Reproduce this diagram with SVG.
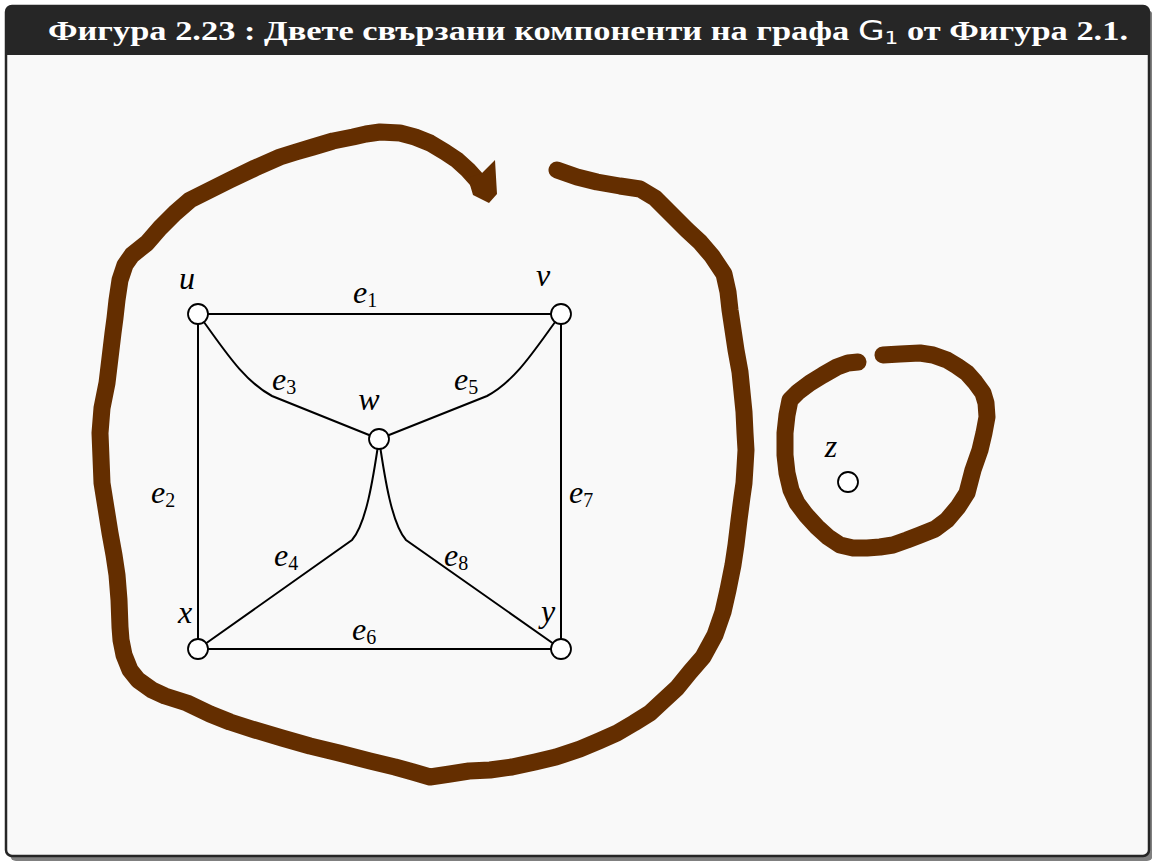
<svg xmlns="http://www.w3.org/2000/svg" width="1152" height="861" viewBox="0 0 1152 861">
<style>
.edge{fill:none;stroke:#000;stroke-width:2}
.node{fill:#fff;stroke:#000;stroke-width:1.8}
.lbl{font-family:"Liberation Serif",serif;font-style:italic;font-size:32px;fill:#000}
.sub{font-style:normal;font-size:20px}
.loop{fill:none;stroke:#642e00;stroke-width:17;stroke-linejoin:round;stroke-linecap:round}
</style>
<rect x="10" y="10" width="1143" height="851" rx="6" fill="#808080"/>
<rect x="6" y="6" width="1143" height="850" rx="6" fill="#f9f9f9" stroke="#262626" stroke-width="2.5"/>
<path d="M6,55 V12 Q6,6 12,6 H1143 Q1149,6 1149,12 V55 Z" fill="#262626"/>
<text x="48" y="40" textLength="1080" lengthAdjust="spacingAndGlyphs" font-family="Liberation Serif, serif" font-weight="bold" font-size="27" fill="#fff">Фигура 2.23 : Двете свързани компоненти на графа <tspan font-family="DejaVu Sans, sans-serif" font-weight="normal">G</tspan><tspan font-family="DejaVu Sans, sans-serif" font-weight="normal" font-size="17" dy="4">1</tspan><tspan dy="-4"> от Фигура 2.1.</tspan></text>

<g id="loops">
<path class="loop" d="M557,170 L577,177 L597,182 L620,186 L640,189 L655,198 L667,210 L687,230 L700,242 L712,256 L724,274 L728,292 L730,310 L733,330 L736,350 L740,372 L742,392 L744,412 L745,433 L746,450 L745,467 L744,483 L742,497 L739,520 L736,545 L733,565 L728,590 L723,612 L715,635 L703,657 L690,672 L677,688 L664,700 L650,713 L634,723 L617,733 L599,741 L580,749 L556,757 L535,762 L512,767 L490,770 L469,771 L450,774 L430,777 L413,772 L395,767 L370,761 L339,753 L310,746 L282,738 L255,730 L230,722 L210,714 L187,703 L165,696 L152,690 L138,680 L130,670 L124,655 L121,640 L120,627 L119,600 L117,575 L114,555 L110,533 L106,508 L102,483 L101,458 L100,433 L102,408 L107,383 L110,358 L113,333 L115,318 L117,300 L120,280 L125,265 L132,255 L147,243 L160,228 L175,213 L190,200 L210,190 L230,180 L255,168 L280,157 L296,152 L313,147 L333,141 L353,137 L366,134 L380,132 L400,133 L415,137 L430,143 L445,152 L457,160 L468,170 L477,180 L482,187"/>
<polygon points="468,178 482,173 495,160 497,194 489,203 473,195" fill="#642e00"/>
<path class="loop" d="M858,362 L848,363 L837,367 L823,375 L810,383 L798,392 L790,400 L787,415 L785,433 L785,455 L787,473 L791,490 L797,503 L806,515 L817,527 L828,537 L840,545 L853,548 L867,548 L880,547 L893,545 L907,540 L920,535 L935,529 L947,520 L958,507 L967,493 L973,470 L980,450 L984,433 L987,417 L986,403 L983,393 L975,382 L967,373 L957,366 L947,360 L933,355 L920,353 L900,354 L883,355"/>
</g>

<g id="connectors">
<line class="edge" x1="198" y1="314" x2="561" y2="314"/>
<line class="edge" x1="198" y1="314" x2="198" y2="649"/>
<line class="edge" x1="561" y1="314" x2="561" y2="649"/>
<line class="edge" x1="198" y1="649" x2="561" y2="649"/>
<path class="edge" d="M198,314 C222,346 242,380 272,396 L379,439"/>
<path class="edge" d="M561,314 C537,346 517,380 487,396 L379,439"/>
<path class="edge" d="M379,439 C373,480 366,524 352,540 L198,649"/>
<path class="edge" d="M379,439 C385,480 392,524 406,540 L561,649"/>
</g>

<g id="edge-labels">
<text class="lbl" x="353" y="303">e<tspan class="sub" dy="4">1</tspan></text>
<text class="lbl" x="151" y="503">e<tspan class="sub" dy="4">2</tspan></text>
<text class="lbl" x="272" y="390">e<tspan class="sub" dy="4">3</tspan></text>
<text class="lbl" x="274" y="566">e<tspan class="sub" dy="4">4</tspan></text>
<text class="lbl" x="454" y="390">e<tspan class="sub" dy="4">5</tspan></text>
<text class="lbl" x="352" y="640">e<tspan class="sub" dy="4">6</tspan></text>
<text class="lbl" x="569" y="503">e<tspan class="sub" dy="4">7</tspan></text>
<text class="lbl" x="444" y="566">e<tspan class="sub" dy="4">8</tspan></text>
</g>

<g id="node-u"><circle class="node" cx="198" cy="314" r="10"/><text class="lbl" x="187" y="289" text-anchor="middle">u</text></g>
<g id="node-v"><circle class="node" cx="561" cy="314" r="10"/><text class="lbl" x="543" y="286" text-anchor="middle">v</text></g>
<g id="node-w"><circle class="node" cx="379" cy="439" r="10"/><text class="lbl" x="369" y="410" text-anchor="middle">w</text></g>
<g id="node-x"><circle class="node" cx="198" cy="649" r="10"/><text class="lbl" x="185" y="623" text-anchor="middle">x</text></g>
<g id="node-y"><circle class="node" cx="561" cy="649" r="10"/><text class="lbl" x="548" y="622" text-anchor="middle">y</text></g>
<g id="node-z"><circle class="node" cx="848" cy="482" r="10"/><text class="lbl" x="831" y="457" text-anchor="middle">z</text></g>
</svg>
